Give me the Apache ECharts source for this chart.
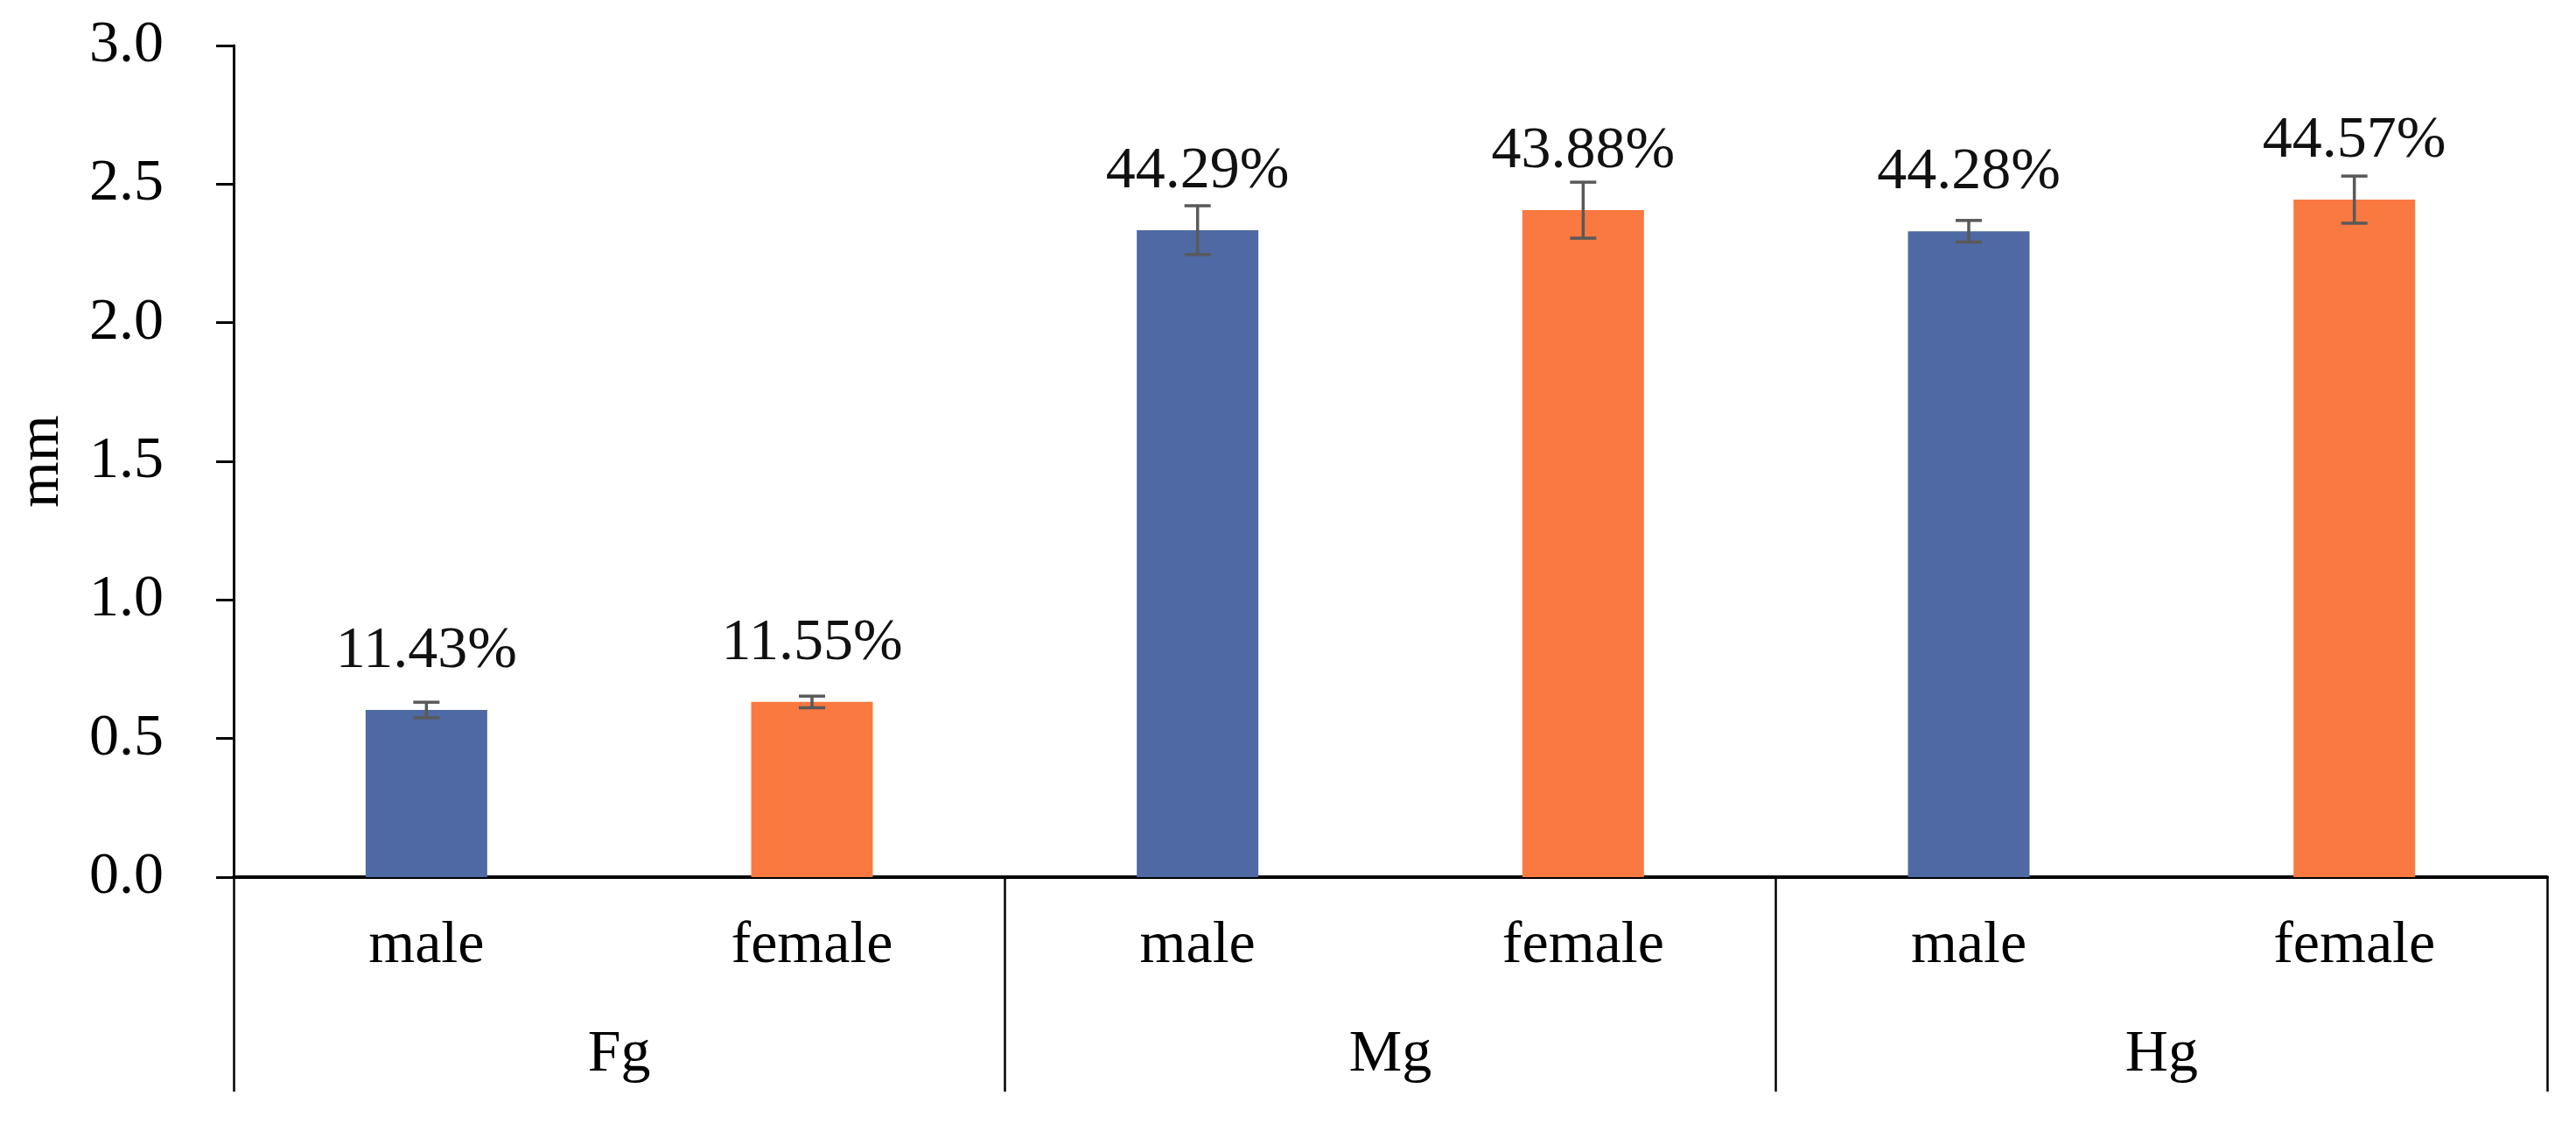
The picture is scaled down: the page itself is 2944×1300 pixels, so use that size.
<!DOCTYPE html>
<html>
<head>
<meta charset="utf-8">
<script src="https://cdn.jsdelivr.net/npm/echarts@6/dist/echarts.min.js"></script>
<style>
  html, body { margin: 0; padding: 0; background: #ffffff; }
  #chart { width: 2944px; height: 1300px; }
</style>
</head>
<body>
<div id="chart"></div>
<script>
// ---- data ----
const categories = ['male', 'female', 'male', 'female', 'male', 'female'];
const groups = ['Fg', 'Mg', 'Hg'];
const means = [0.603, 0.632, 2.334, 2.406, 2.330, 2.444];
const errors = [0.028, 0.021, 0.088, 0.101, 0.039, 0.085];
const percentLabels = ['11.43%', '11.55%', '44.29%', '43.88%', '44.28%', '44.57%'];
const yTicks = [0, 0.5, 1.0, 1.5, 2.0, 2.5, 3.0];

const FONT = "'Liberation Serif', 'Times New Roman', serif";
const BLUE = '#4F69A4';
const ORANGE = '#F97941';
const ERR = '#595959';

const barData = means.map((v, i) => ({
  value: v,
  itemStyle: { color: i % 2 === 0 ? BLUE : ORANGE }
}));
const errData = means.map((v, i) => [i, v, errors[i]]);

const chart = echarts.init(document.getElementById('chart'), null, { renderer: 'canvas' });

const option = {
  animation: false,
  backgroundColor: '#ffffff',
  grid: {
    left: 267, right: 33, top: 52, bottom: 298,
    containLabel: false,
    outerBoundsMode: 'none'
  },
  xAxis: [
    {
      type: 'category',
      data: categories,
      position: 'bottom',
      axisLine: { show: true, lineStyle: { color: '#000', width: 4 } },
      axisTick: { show: false },
      axisLabel: {
        show: true, margin: 45, interval: 0,
        fontFamily: FONT, fontSize: 68, color: '#000', lineHeight: 68
      },
      splitLine: { show: false }
    },
    {
      type: 'category',
      data: groups,
      position: 'bottom',
      offset: 0,
      boundaryGap: true,
      axisLine: { show: false },
      axisTick: {
        show: true, length: 245, inside: false, alignWithLabel: false, interval: 0,
        lineStyle: { color: '#000', width: 2.5 }
      },
      axisLabel: {
        show: true, margin: 169, interval: 0,
        fontFamily: FONT, fontSize: 68, color: '#000', lineHeight: 68
      },
      splitLine: { show: false }
    }
  ],
  yAxis: {
    type: 'value',
    min: yTicks[0],
    max: yTicks[yTicks.length - 1],
    interval: 0.5,
    name: 'mm',
    nameLocation: 'middle',
    nameGap: 185,
    nameRotate: 90,
    nameTextStyle: { fontFamily: FONT, fontSize: 68, color: '#000', lineHeight: 68 },
    axisLine: { show: true, lineStyle: { color: '#000', width: 3 } },
    axisTick: { show: true, length: 20, inside: false, lineStyle: { color: '#000', width: 3 } },
    axisLabel: {
      margin: 80,
      fontFamily: FONT, fontSize: 68, color: '#000', lineHeight: 68,
      formatter: v => v.toFixed(1)
    },
    splitLine: { show: false }
  },
  series: [
    {
      type: 'bar',
      xAxisIndex: 0,
      data: barData,
      barWidth: 139,
      label: {
        show: true,
        position: 'top',
        distance: 33,
        fontFamily: FONT, fontSize: 68, color: '#111', lineHeight: 68,
        formatter: p => percentLabels[p.dataIndex]
      },
      z: 2
    },
    {
      type: 'custom',
      xAxisIndex: 0,
      data: errData,
      encode: { x: 0, y: 1 },
      z: 5,
      renderItem: function (params, api) {
        const i = api.value(0);
        const m = api.value(1);
        const e = api.value(2);
        const top = api.coord([i, m + e]);
        const bot = api.coord([i, m - e]);
        const half = 15;
        const style = { stroke: ERR, lineWidth: 3.5, fill: null };
        return {
          type: 'group',
          children: [
            { type: 'line', shape: { x1: top[0], y1: top[1], x2: bot[0], y2: bot[1] }, style: style },
            { type: 'line', shape: { x1: top[0] - half, y1: top[1], x2: top[0] + half, y2: top[1] }, style: style },
            { type: 'line', shape: { x1: bot[0] - half, y1: bot[1], x2: bot[0] + half, y2: bot[1] }, style: style }
          ]
        };
      }
    }
  ]
};

chart.setOption(option);
</script>
</body>
</html>
